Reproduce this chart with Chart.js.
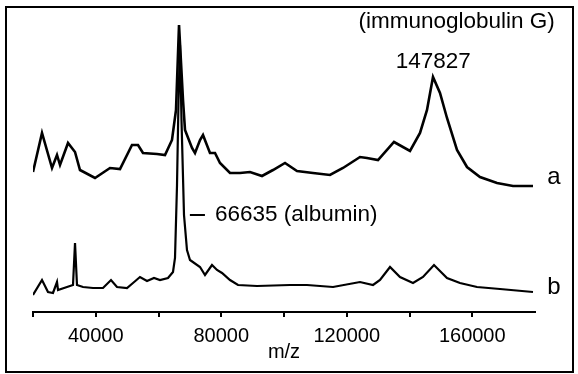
<!DOCTYPE html>
<html>
<head>
<meta charset="utf-8">
<script src="https://cdn.jsdelivr.net/npm/chart.js@4/dist/chart.umd.min.js"></script>
<style>
  html, body { margin: 0; padding: 0; background: #fff; }
  #wrap { width: 578px; height: 374px; position: relative; }
</style>
</head>
<body>
<div id="wrap"><canvas id="c" width="578" height="374"></canvas></div>
<script>
// m/z values and relative intensities (arbitrary units)
const mzA = [20000, 22870, 26060, 27650, 28610, 31160, 33390, 34980, 39760, 44540, 47730, 51550, 53470, 55060, 59520, 62070, 64300, 65580, 66540, 67810, 68450, 70680, 71630, 73230, 74180, 76410, 78010, 79600, 82790, 85980, 89160, 92990, 96490, 100320, 104140, 109240, 114660, 118800, 124220, 126450, 129960, 135060, 140160, 143350, 145580, 147490, 149720, 151950, 155140, 158330, 162470, 167890, 172990, 179360];
const intA = [140, 179, 144, 157, 147, 169, 160, 142, 134, 144, 143, 167, 167, 159, 158, 157, 172, 202, 287, 212, 182, 164, 159, 172, 177, 159, 159, 149, 139, 139, 140, 136, 142, 149, 141, 139, 137, 144, 155, 154, 152, 170, 161, 179, 202, 235, 219, 194, 162, 145, 135, 129, 126, 126];

const mzB = [20000, 22870, 24780, 26370, 27650, 27970, 30840, 32750, 33390, 34020, 35940, 39120, 42310, 44860, 46770, 49960, 51870, 54100, 56340, 58570, 60480, 63030, 64620, 65260, 65900, 66380, 66850, 67330, 68130, 69080, 70040, 73230, 74820, 77050, 78650, 80240, 82790, 85340, 91400, 101910, 107330, 115620, 124220, 128370, 130600, 133790, 136970, 141120, 144300, 147810, 151950, 156090, 161510, 168840, 179360];
const intB = [17, 32, 20, 19, 30, 22, 25, 27, 69, 27, 25, 24, 24, 32, 25, 24, 29, 35, 31, 34, 32, 34, 40, 54, 127, 212, 267, 192, 97, 62, 52, 45, 37, 47, 42, 39, 32, 27, 26, 27, 27, 25, 30, 27, 32, 45, 35, 29, 35, 47, 34, 29, 25, 23, 20];

const tickValues = [20000, 40000, 60000, 80000, 100000, 120000, 140000, 160000];
const labeledTicks = [40000, 80000, 120000, 160000];
const axisTitle = 'm/z';
const seriesNames = ['a', 'b'];
const peakLabelIgG = ['(immunoglobulin G)', '147827'];
const peakLabelAlb = '66635 (albumin)';

const FONT = 'Arial, "Liberation Sans", Helvetica, sans-serif';

const toXY = (xs, ys) => xs.map((x, i) => ({ x: x, y: ys[i] }));

const annot = {
  id: 'annot',
  afterDraw(chart) {
    const ctx = chart.ctx;
    const xs = chart.scales.x, ys = chart.scales.y;
    ctx.save();
    // outer frame
    ctx.strokeStyle = '#000';
    ctx.lineWidth = 2;
    ctx.strokeRect(6, 7, 567, 365);
    ctx.fillStyle = '#000';
    ctx.font = '22.5px ' + FONT;
    ctx.textBaseline = 'middle';
    ctx.textAlign = 'center';
    ctx.fillText(peakLabelIgG[0], xs.getPixelForValue(155000), ys.getPixelForValue(290));
    ctx.fillText(peakLabelIgG[1], xs.getPixelForValue(147600), ys.getPixelForValue(250));
    // albumin label with leader line
    const yAlb = ys.getPixelForValue(97);
    ctx.beginPath();
    ctx.moveTo(xs.getPixelForValue(70000), yAlb);
    ctx.lineTo(xs.getPixelForValue(74800), yAlb);
    ctx.stroke();
    ctx.textAlign = 'left';
    ctx.fillText(peakLabelAlb, xs.getPixelForValue(78000), yAlb);
    // series labels
    ctx.font = '24px ' + FONT;
    ctx.textAlign = 'center';
    ctx.fillText(seriesNames[0], xs.getPixelForValue(186000), ys.getPixelForValue(135));
    ctx.fillText(seriesNames[1], xs.getPixelForValue(186000), ys.getPixelForValue(25));
    ctx.restore();
  }
};

new Chart(document.getElementById('c'), {
  type: 'line',
  data: {
    datasets: [
      { label: seriesNames[0], data: toXY(mzA, intA), borderColor: '#000', borderWidth: 2.6, pointRadius: 0, tension: 0, fill: false },
      { label: seriesNames[1], data: toXY(mzB, intB), borderColor: '#000', borderWidth: 2.2, pointRadius: 0, tension: 0, fill: false }
    ]
  },
  options: {
    responsive: false,
    animation: false,
    layout: { padding: { left: 33, right: 43, top: 10, bottom: 0 } },
    plugins: { legend: { display: false }, tooltip: { enabled: false } },
    scales: {
      x: {
        type: 'linear',
        min: 20000,
        max: 180000,
        afterBuildTicks: (s) => { s.ticks = tickValues.map(v => ({ value: v })); },
        afterFit: (s) => { s.height = 62; },
        border: { display: true, color: '#000', width: 2 },
        grid: { drawOnChartArea: false, drawTicks: true, tickLength: 5, color: '#000', lineWidth: 2 },
        ticks: {
          color: '#000',
          font: { family: FONT, size: 20 },
          padding: 7,
          maxRotation: 0,
          autoSkip: false,
          callback: (v) => labeledTicks.includes(v) ? String(v) : ''
        },
        title: { display: true, text: axisTitle, color: '#000', font: { family: FONT, size: 20 }, padding: { top: 0, bottom: 10 } }
      },
      y: { display: false, min: 0, max: 302 }
    }
  },
  plugins: [annot]
});
</script>
</body>
</html>
